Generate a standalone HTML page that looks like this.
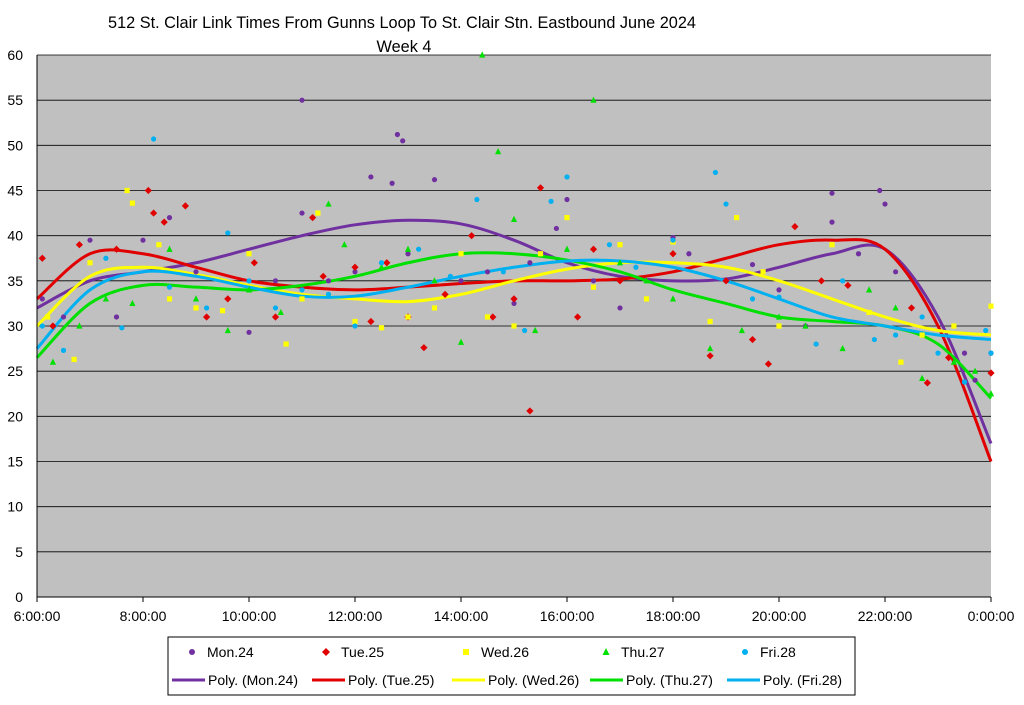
<!DOCTYPE html>
<html><head><meta charset="utf-8"><style>
body{margin:0;background:#fff;font-family:"Liberation Sans",sans-serif}
svg text{font-family:"Liberation Sans",sans-serif}
</style></head><body>
<svg id="chart" width="1024" height="700" xmlns="http://www.w3.org/2000/svg">
<text x="402" y="28" text-anchor="middle" font-size="16.3">512 St. Clair Link Times From Gunns Loop To St. Clair Stn. Eastbound June 2024</text>
<text x="404" y="52" text-anchor="middle" font-size="16.3">Week 4</text>
<rect x="37" y="55" width="954" height="542" fill="#c0c0c0"/>
<g id="grid"></g><g id="trends"></g><g id="points"></g><g id="axes"></g>
<rect x="168" y="637" width="687" height="58" fill="#fff" stroke="#000" stroke-width="1"/>
<g id="legend"></g>
</svg>
<script>
const seriesNames=["Mon.24","Tue.25","Wed.26","Thu.27","Fri.28"];
const colors=["#7030a0","#e00000","#ffff00","#00e000","#00b0f0"];
const yTicks=[0,5,10,15,20,25,30,35,40,45,50,55,60];
const xTickHours=[6,8,10,12,14,16,18,20,22,24];
const xTickLabels=["6:00:00","8:00:00","10:00:00","12:00:00","14:00:00","16:00:00","18:00:00","20:00:00","22:00:00","0:00:00"];
const trendHours=[6,7,8,9,10,11,12,13,14,15,16,17,18,19,20,21,22,23,24];
const trendMon=[32,35,36,37,38.5,40,41.2,41.7,41.3,39.5,37,35.5,35,35.2,36.5,38,38.5,31,17];
const trendTue=[33,38,38,36.5,35,34.3,34,34.3,34.7,35,35,35.2,36,37.5,39,39.5,38.5,30,15];
const trendWed=[30,35.5,36.5,35.7,34.5,33.5,33,32.7,33.5,35,36.3,37,37,36.5,35,33,31,29.5,29];
const trendThu=[26.5,32.5,34.5,34.3,34,34.5,35.5,37,38,38,37.3,36,34,32.5,31,30.5,30,28,22];
const trendFri=[27.5,34,36,35.5,34.3,33.3,33.3,34.3,35.5,36.5,37.2,37.2,36.5,35,33,31,30,29,28.5];
const ptsMon=[[6.1,33],[6.5,31],[7,39.5],[7.5,31],[8,39.5],[8.5,42],[9,36],[10,29.3],[10.5,35],[11,55],[11,42.5],[11.5,35],[12,36],[12.3,46.5],[12.7,45.8],[12.8,51.2],[12.9,50.5],[13.5,46.2],[13,38],[14,35],[14.5,36],[15,32.5],[15.3,37],[15.8,40.8],[16,44],[16.5,35],[17,32],[18,39.8],[18.3,38],[19,35],[19.5,36.8],[20,34],[20.5,30],[21,44.7],[21,41.5],[21.5,38],[21.9,45],[22,43.5],[22.2,36],[23.5,27],[23.7,24],[24,27]];
const ptsTue=[[6.1,37.5],[6.3,30],[6.8,39],[7.5,38.5],[8.1,45],[8.2,42.5],[8.4,41.5],[8.8,43.3],[9.2,31],[9.6,33],[10.1,37],[10.5,31],[11.2,42],[11.4,35.5],[12,36.5],[12.3,30.5],[12.6,37],[13,31],[13.3,27.6],[13.7,33.5],[14.2,40],[14.6,31],[15,33],[15.3,20.6],[15.5,45.3],[16.2,31],[16.5,38.5],[17,35],[18,38],[18.7,26.7],[19,35],[19.5,28.5],[19.8,25.8],[20.3,41],[20.8,35],[21.3,34.5],[22.5,32],[22.8,23.7],[23.2,26.5],[24,24.8]];
const ptsWed=[[6.2,31],[6.7,26.3],[7,37],[7.7,45],[7.8,43.6],[8.3,39],[8.5,33],[9,32],[9.5,31.7],[10,38],[10.7,28],[11,33],[11.3,42.5],[12,30.5],[12.5,29.8],[13,31],[13.5,32],[14,38],[14.5,31],[15,30],[15.5,38],[16,42],[16.5,34.3],[17,39],[17.5,33],[18,39.3],[18.7,30.5],[19.2,42],[19.7,36],[20,30],[21,39],[21.7,31.5],[22.3,26],[22.7,29],[23.3,30],[24,32.2]];
const ptsThu=[[6.3,26],[6.8,30],[7.3,33],[7.8,32.5],[8.5,38.5],[9,33],[9.6,29.5],[10,34],[10.6,31.5],[11.5,43.5],[11.8,39],[12.5,36.5],[13,38.5],[13.5,35],[14,28.2],[14.4,60],[14.7,49.3],[15,41.8],[15.4,29.5],[16,38.5],[16.5,55],[17,37],[17.5,35],[18,33],[18.7,27.5],[19.3,29.5],[20,31],[20.5,30],[21.2,27.5],[21.7,34],[22.2,32],[22.7,24.2],[23.3,26],[23.7,25],[24,22.5]];
const ptsFri=[[6.1,30],[6.5,27.3],[7.3,37.5],[7.6,29.8],[8.2,50.7],[8.5,34.3],[9.2,32],[9.6,40.3],[10,35],[10.5,32],[11,34],[11.5,33.5],[12,30],[12.5,37],[13.2,38.5],[13.8,35.5],[14.3,44],[14.8,36],[15.2,29.5],[15.7,43.8],[16,46.5],[16.8,39],[17.3,36.5],[18,39.5],[18.8,47],[19,43.5],[19.5,33],[20,33.2],[20.7,28],[21.2,35],[21.8,28.5],[22.2,29],[22.7,31],[23,27],[23.5,23.8],[23.9,29.5],[24,27]];
const trends=[trendMon,trendTue,trendWed,trendThu,trendFri];
const pts=[ptsMon,ptsTue,ptsWed,ptsThu,ptsFri];
const shapes=["circle","diamond","square","triangle","circle"];
const NS="http://www.w3.org/2000/svg";
const X0=37,X1=991,Y0=597,Y1=55;
const xs=h=>X0+(h-6)/18*(X1-X0);
const ys=v=>Y0-v/60*(Y0-Y1);
function mk(t,a,p){const e=document.createElementNS(NS,t);for(const k in a)e.setAttribute(k,a[k]);p.appendChild(e);return e;}
const grid=document.getElementById('grid'),axes=document.getElementById('axes');
yTicks.forEach(v=>{
 const l=mk('line',{x1:X0,x2:X1,y1:ys(v),y2:ys(v),stroke:'#000','stroke-width':0.8},grid);
 
 
 const t=mk('text',{x:23,y:ys(v)+5,'text-anchor':'end','font-size':14},axes);t.textContent=v;
 
 
});
mk('line',{x1:X0,x2:X0,y1:Y1,y2:Y0,stroke:'#000'},axes);
mk('line',{x1:X0,x2:X1,y1:Y0,y2:Y0,stroke:'#000'},axes);
xTickHours.forEach((h,i)=>{
 mk('line',{x1:xs(h),x2:xs(h),y1:Y0,y2:Y0+5,stroke:'#000'},axes);
 const t=mk('text',{x:xs(h),y:Y0+24,'text-anchor':'middle','font-size':14},axes);t.textContent=xTickLabels[i];
 
 
});
function smooth(p){let d='M'+p[0][0]+','+p[0][1];for(let i=0;i<p.length-1;i++){const a=p[Math.max(0,i-1)],b=p[i],c=p[i+1],e=p[Math.min(p.length-1,i+2)];d+=' C'+(b[0]+(c[0]-a[0])/6)+','+(b[1]+(c[1]-a[1])/6)+' '+(c[0]-(e[0]-b[0])/6)+','+(c[1]-(e[1]-b[1])/6)+' '+c[0]+','+c[1];}return d;}
function marker(s,x,y,col,par,r){r=r||2.6;let e;
 if(s==='circle')e=mk('circle',{cx:x,cy:y,r:r,fill:col},par);
 else if(s==='square')e=mk('rect',{x:x-r,y:y-r,width:2*r,height:2*r,fill:col},par);
 else if(s==='diamond')e=mk('polygon',{points:`${x},${y-r-1} ${x+r+1},${y} ${x},${y+r+1} ${x-r-1},${y}`,fill:col},par);
 else e=mk('polygon',{points:`${x},${y-r-1} ${x+r+0.5},${y+r} ${x-r-0.5},${y+r}`,fill:col},par);
 return e;}
const tg=document.getElementById('trends'),pg=document.getElementById('points');
pts.forEach((arr,si)=>arr.forEach(p=>{
 const m=marker(shapes[si],xs(p[0]),ys(p[1]),colors[si],pg);
 
 
}));
trends.forEach((arr,si)=>{
 const p=mk('path',{d:smooth(arr.map((v,i)=>[xs(trendHours[i]),ys(v)])),fill:'none',stroke:colors[si],'stroke-width':3},tg);
 
 
});
const lg=document.getElementById('legend');
const mx=[192,326,466,606,745],lx=[172,312,452,590,727];
seriesNames.forEach((n,i)=>{
 const m=marker(shapes[i],mx[i],652,colors[i],lg,3);
 
 
 const t=mk('text',{x:mx[i]+15,y:657,'font-size':14},lg);t.textContent=n;
 
 
 const l=mk('line',{x1:lx[i],x2:lx[i]+33,y1:680,y2:680,stroke:colors[i],'stroke-width':3},lg);
 
 
 const t2=mk('text',{x:lx[i]+36,y:685,'font-size':14},lg);t2.textContent='Poly. ('+n+')';
 
 
});
</script>
</body></html>
